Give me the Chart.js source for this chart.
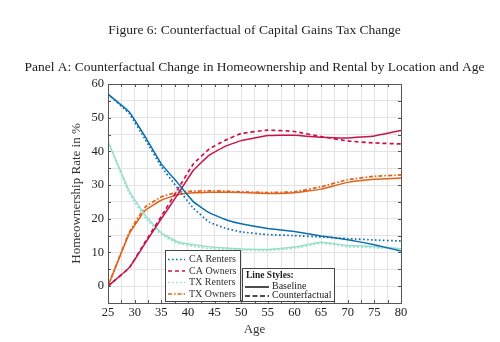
<!DOCTYPE html>
<html>
<head>
<meta charset="utf-8">
<script src="https://cdn.jsdelivr.net/npm/chart.js@4.4.0/dist/chart.umd.min.js"></script>
<style>
  html, body { margin: 0; padding: 0; background: #fff; }
  #wrap { width: 500px; height: 342px; }
</style>
</head>
<body>
<div id="wrap"><canvas id="chart" width="500" height="342"></canvas></div>
<script>
var ages = [25, 29, 32, 35, 38, 41, 44, 47, 50, 55, 60, 65, 70, 75, 80];

// solid = baseline, patterned = counterfactual
var caRentersBase = [57, 51.7, 44.3, 36.3, 30.8, 25.1, 21.8, 19.8, 18.5, 17.1, 16.2, 14.9, 13.8, 12.3, 10.4];
var caRentersCf   = [57, 51.2, 43.5, 35.5, 29.2, 23.2, 19.0, 17.2, 16.1, 15.3, 15.0, 14.6, 14.1, 13.7, 13.4];
var caOwnersBase  = [0, 5.5, 12.8, 20.0, 27.0, 34.3, 38.9, 41.5, 43.2, 44.7, 44.8, 44.2, 44.0, 44.6, 46.2];
var caOwnersCf    = [0, 5.5, 13.2, 20.7, 28.5, 36.2, 40.7, 43.3, 45.3, 46.3, 45.9, 44.4, 43.1, 42.5, 42.2];
var txRentersBase = [43, 28.2, 21.0, 15.8, 13.2, 12.3, 11.7, 11.3, 11.0, 10.9, 11.6, 13.0, 12.1, 11.8, 11.1];
var txRentersCf   = [43, 27.5, 20.3, 15.3, 12.8, 11.8, 11.2, 10.9, 10.7, 10.6, 11.2, 12.7, 11.7, 11.4, 11.0];
var txOwnersBase  = [0, 15.6, 22.5, 25.5, 27.1, 27.7, 27.9, 27.9, 27.8, 27.5, 27.7, 28.8, 30.8, 31.7, 32.1];
var txOwnersCf    = [0, 16.0, 23.5, 26.5, 27.9, 28.2, 28.3, 28.2, 28.0, 27.8, 28.0, 29.5, 31.6, 32.6, 33.0];

var seriesNames = ['CA Renters', 'CA Owners', 'TX Renters', 'TX Owners'];
var seriesColors = ['#0a6eae', '#c8144a', '#94dfca', '#e2621c'];
var seriesDash = [[1.6, 2.4], [4, 3], [1.6, 2.4], [4, 2, 1.6, 2]];

var serif = "'Liberation Serif', 'DejaVu Serif', serif";

function line(label, values, color, dash) {
  return {
    label: label,
    data: ages.map(function(a, i) { return {x: a, y: values[i]}; }),
    borderColor: color,
    borderDash: dash,
    borderWidth: dash.length ? 1.7 : 1.5,
    pointRadius: 0,
    fill: false,
    tension: 0.1
  };
}

var datasets = [
  line('CA Renters', caRentersBase, seriesColors[0], []),
  line('CA Renters cf', caRentersCf, seriesColors[0], seriesDash[0]),
  line('CA Owners', caOwnersBase, seriesColors[1], []),
  line('CA Owners cf', caOwnersCf, seriesColors[1], seriesDash[1]),
  line('TX Renters', txRentersBase, seriesColors[2], []),
  line('TX Renters cf', txRentersCf, seriesColors[2], seriesDash[2]),
  line('TX Owners', txOwnersBase, seriesColors[3], []),
  line('TX Owners cf', txOwnersCf, seriesColors[3], seriesDash[3])
];

// titles, inward ticks, frame and the two legend boxes
var decorations = {
  id: 'decorations',
  afterDraw: function(chart) {
    var ctx = chart.ctx, a = chart.chartArea;
    var xs = chart.scales.x, ys = chart.scales.y;
    var cx = (a.left + a.right) / 2;
    ctx.save();

    ctx.fillStyle = '#222';
    ctx.textAlign = 'center';
    ctx.textBaseline = 'middle';
    ctx.font = '13.5px ' + serif;
    ctx.fillText('Figure 6: Counterfactual of Capital Gains Tax Change', cx, 30);
    ctx.font = '13.5px ' + serif;
    ctx.fillText('Panel A: Counterfactual Change in Homeownership and Rental by Location and Age', cx, 67);

    ctx.strokeStyle = '#555';
    ctx.lineWidth = 1;
    ctx.beginPath();
    xs.ticks.forEach(function(t) {
      var px = Math.round(xs.getPixelForValue(t.value)) + 0.5;
      ctx.moveTo(px, a.bottom); ctx.lineTo(px, a.bottom - 3);
      ctx.moveTo(px, a.top); ctx.lineTo(px, a.top + 3);
    });
    ys.ticks.forEach(function(t) {
      var py = Math.round(ys.getPixelForValue(t.value)) + 0.5;
      ctx.moveTo(a.left, py); ctx.lineTo(a.left + 3, py);
      ctx.moveTo(a.right, py); ctx.lineTo(a.right - 3, py);
    });
    ctx.stroke();
    ctx.strokeRect(Math.round(a.left) + 0.5, Math.round(a.top) + 0.5, Math.round(a.width), Math.round(a.height));

    // series legend
    ctx.fillStyle = '#fff';
    ctx.fillRect(165, 250, 75, 51);
    ctx.strokeStyle = '#444';
    ctx.strokeRect(165.5, 250.5, 75, 51);
    ctx.font = '10px ' + serif;
    ctx.textAlign = 'left';
    seriesNames.forEach(function(name, i) {
      var yy = 259.5 + i * 11.5;
      ctx.strokeStyle = seriesColors[i];
      ctx.lineWidth = 1.7;
      ctx.setLineDash(seriesDash[i]);
      ctx.beginPath(); ctx.moveTo(168, yy); ctx.lineTo(185, yy); ctx.stroke();
      ctx.fillStyle = '#333';
      ctx.fillText(name, 189, yy);
    });

    // line style legend
    ctx.setLineDash([]);
    ctx.lineWidth = 1;
    ctx.fillStyle = '#fff';
    ctx.fillRect(242, 268, 92, 33);
    ctx.strokeStyle = '#444';
    ctx.strokeRect(242.5, 268.5, 92, 33);
    ctx.fillStyle = '#222';
    ctx.font = 'bold 9.5px ' + serif;
    ctx.fillText('Line Styles:', 246, 276);
    ctx.font = '10px ' + serif;
    ctx.fillText('Baseline', 272, 286.5);
    ctx.fillText('Counterfactual', 272, 295.5);
    ctx.strokeStyle = '#111';
    ctx.lineWidth = 1.5;
    ctx.beginPath(); ctx.moveTo(245, 287); ctx.lineTo(269, 287); ctx.stroke();
    ctx.setLineDash([5, 2.5]);
    ctx.beginPath(); ctx.moveTo(245, 296); ctx.lineTo(269, 296); ctx.stroke();
    ctx.restore();
  }
};

new Chart(document.getElementById('chart'), {
  type: 'line',
  data: { datasets: datasets },
  plugins: [decorations],
  options: {
    responsive: false,
    animation: false,
    layout: { padding: { top: 84, left: 62, right: 99, bottom: 0 } },
    plugins: {
      legend: { display: false },
      tooltip: { enabled: false }
    },
    scales: {
      x: {
        type: 'linear',
        min: 25, max: 80,
        afterFit: function(s) { s.height = 39; },
        ticks: {
          stepSize: 2.5,
          padding: 2,
          color: '#222',
          font: { family: serif, size: 12.5 },
          maxRotation: 0,
          autoSkip: false,
          callback: function(v) { return v % 5 === 0 ? v : ''; }
        },
        grid: { color: '#e3e3e3', drawTicks: false },
        border: { display: false },
        title: { display: true, text: 'Age', color: '#333', font: { family: serif, size: 13 }, padding: { top: 0, bottom: 5 } }
      },
      y: {
        min: -5, max: 60,
        afterFit: function(s) { s.width = 46; },
        ticks: {
          stepSize: 5,
          padding: 4,
          color: '#222',
          font: { family: serif, size: 12.5 },
          autoSkip: false,
          callback: function(v) { return v % 10 === 0 ? v : ''; }
        },
        grid: { color: '#e3e3e3', drawTicks: false },
        border: { display: false },
        title: { display: true, text: 'Homeownership Rate in %', color: '#333', font: { family: serif, size: 13 }, padding: { top: 7, bottom: 0 } }
      }
    }
  }
});
</script>
</body>
</html>
